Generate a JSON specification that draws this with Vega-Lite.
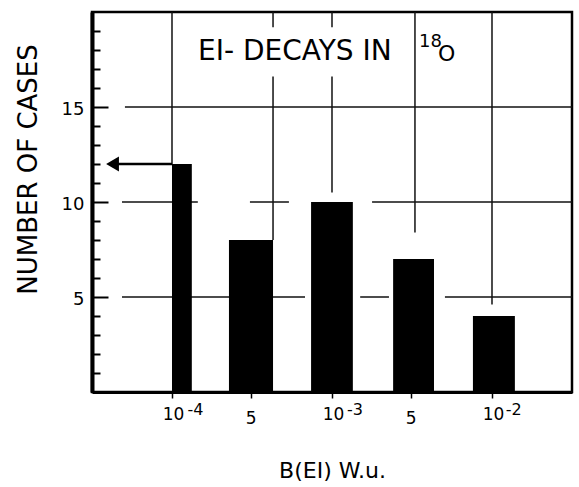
{
  "$schema": "https://vega.github.io/schema/vega-lite/v6.json",
  "width": 480,
  "height": 380,
  "autosize": {"type": "none"},
  "padding": {"left": 92, "top": 12, "right": 7, "bottom": 95},
  "background": "white",
  "config": {
    "font": "DejaVu Sans",
    "view": {"stroke": "black", "strokeWidth": 2.5}
  },
  "datasets": {
    "hgrid": [
      {"cases": 15, "from": 5.08e-5, "to": 0.03162},
      {"cases": 10, "from": 4.87e-5, "to": 1.45e-4},
      {"cases": 10, "from": 3.07e-4, "to": 5.38e-4},
      {"cases": 10, "from": 1.78e-3, "to": 0.03162},
      {"cases": 5, "from": 4.87e-5, "to": 6.78e-4},
      {"cases": 5, "from": 1.5e-3, "to": 2.27e-3},
      {"cases": 5, "from": 5.08e-3, "to": 0.03162}
    ],
    "vgrid": [
      {"b": 1e-4, "top": 20, "bottom": 12},
      {"b": 4.28e-4, "top": 20, "bottom": 19.2},
      {"b": 4.28e-4, "top": 16.6, "bottom": 8},
      {"b": 1e-3, "top": 20, "bottom": 19.2},
      {"b": 1e-3, "top": 16.6, "bottom": 10.5},
      {"b": 3.3e-3, "top": 20, "bottom": 8.4},
      {"b": 1e-2, "top": 20, "bottom": 4.6}
    ],
    "bars": [
      {"lo": 1.0e-4, "hi": 1.33e-4, "cases": 12},
      {"lo": 2.27e-4, "hi": 4.28e-4, "cases": 8},
      {"lo": 7.4e-4, "hi": 1.35e-3, "cases": 10},
      {"lo": 2.41e-3, "hi": 4.34e-3, "cases": 7},
      {"lo": 7.6e-3, "hi": 1.39e-2, "cases": 4}
    ],
    "arrow": [
      {"from": 4.25e-5, "to": 1.0e-4, "cases": 12}
    ],
    "exponents": [
      {"b": 1.25e-4, "cases": -1.2, "label": "-4"},
      {"b": 1.24e-3, "cases": -1.2, "label": "-3"},
      {"b": 1.22e-2, "cases": -1.2, "label": "-2"}
    ]
  },
  "encoding": {
    "x": {
      "type": "quantitative",
      "scale": {"type": "log", "domain": [3.1623e-5, 0.031623], "nice": false},
      "axis": {
        "title": "B(EI) W.u.",
        "titleFont": "DejaVu Sans",
        "titleFontSize": 22,
        "titleFontWeight": "normal",
        "titleColor": "black",
        "titleBaseline": "alphabetic",
        "titleY": 85,
        "values": [1e-4, 3.1e-4, 1e-3, 3.1e-3, 1e-2],
        "labelExpr": "datum.value < 6e-4 && datum.value > 2e-4 ? '5' : datum.value < 6e-3 && datum.value > 2e-3 ? '5' : '10'",
        "labelFont": "DejaVu Sans",
        "labelFontSize": 17,
        "labelColor": "black",
        "labelBaseline": "top",
        "labelAlign": "center",
        "labelOffset": {"condition": {"test": "datum.value < 2e-4 || (datum.value > 6e-4 && datum.value < 2e-3) || datum.value > 6e-3", "value": 1}, "value": 0},
        "labelPadding": {"condition": {"test": "datum.value < 2e-4 || (datum.value > 6e-4 && datum.value < 2e-3) || datum.value > 6e-3", "value": 8}, "value": 12},
        "labelFlush": false,
        "labelOverlap": false,
        "grid": false,
        "tickSize": 6,
        "tickWidth": 1.5,
        "tickColor": "black",
        "domainColor": "black",
        "domainWidth": 3
      }
    },
    "y": {
      "type": "quantitative",
      "scale": {"domain": [0, 20], "nice": false, "zero": true},
      "axis": {
        "title": "NUMBER OF CASES",
        "titleFont": "DejaVu Sans",
        "titleFontSize": 26,
        "titleFontWeight": "normal",
        "titleColor": "black",
        "titleBaseline": "alphabetic",
        "titleAngle": -90,
        "titleX": -56,
        "titleY": 157,
        "values": [1, 2, 3, 4, 5, 6, 7, 8, 9, 10, 11, 12, 13, 14, 15, 16, 17, 18, 19],
        "labelExpr": "datum.value % 5 === 0 ? datum.label : ''",
        "labelFont": "DejaVu Sans",
        "labelFontSize": 18,
        "labelColor": "black",
        "labelOffset": 2,
        "labelPadding": 24,
        "grid": false,
        "tickSize": {"condition": {"test": "datum.value % 5 === 0", "value": -16}, "value": -8},
        "tickWidth": 2,
        "tickColor": "black",
        "domainColor": "black",
        "domainWidth": 4
      }
    }
  },
  "layer": [
    {
      "data": {"name": "hgrid"},
      "mark": {"type": "rule", "color": "#111", "strokeWidth": 1.5},
      "encoding": {
        "x": {"field": "from", "type": "quantitative"},
        "x2": {"field": "to"},
        "y": {"field": "cases", "type": "quantitative"}
      }
    },
    {
      "data": {"name": "vgrid"},
      "mark": {"type": "rule", "color": "#111", "strokeWidth": 1.5},
      "encoding": {
        "x": {"field": "b", "type": "quantitative"},
        "y": {"field": "top", "type": "quantitative"},
        "y2": {"field": "bottom"}
      }
    },
    {
      "data": {"name": "bars"},
      "mark": {"type": "rect", "fill": "black", "stroke": null},
      "encoding": {
        "x": {"field": "lo", "type": "quantitative"},
        "x2": {"field": "hi"},
        "y": {"field": "cases", "type": "quantitative"},
        "y2": {"datum": 0}
      }
    },
    {
      "data": {"name": "arrow"},
      "mark": {"type": "rule", "color": "black", "strokeWidth": 2.5},
      "encoding": {
        "x": {"field": "from", "type": "quantitative"},
        "x2": {"field": "to"},
        "y": {"field": "cases", "type": "quantitative"}
      }
    },
    {
      "data": {"name": "arrow"},
      "mark": {"type": "point", "shape": "triangle-left", "filled": true, "color": "black", "size": 220, "opacity": 1},
      "encoding": {
        "x": {"field": "from", "type": "quantitative"},
        "y": {"field": "cases", "type": "quantitative"}
      }
    },
    {
      "data": {"name": "exponents"},
      "mark": {"type": "text", "align": "left", "baseline": "alphabetic", "fontSize": 16, "font": "DejaVu Sans", "color": "black"},
      "encoding": {
        "x": {"field": "b", "type": "quantitative"},
        "y": {"field": "cases", "type": "quantitative"},
        "text": {"field": "label"}
      }
    },
    {
      "data": {"values": [{"b": 1.454e-4, "cases": 17.47, "label": "EI- DECAYS IN"}]},
      "mark": {"type": "text", "align": "left", "baseline": "alphabetic", "fontSize": 28, "font": "DejaVu Sans", "color": "black"},
      "encoding": {
        "x": {"field": "b", "type": "quantitative"},
        "y": {"field": "cases", "type": "quantitative"},
        "text": {"field": "label"}
      }
    },
    {
      "data": {"values": [{"b": 3.5e-3, "cases": 18.16, "label": "18"}]},
      "mark": {"type": "text", "align": "left", "baseline": "alphabetic", "fontSize": 18, "font": "DejaVu Sans", "color": "black"},
      "encoding": {
        "x": {"field": "b", "type": "quantitative"},
        "y": {"field": "cases", "type": "quantitative"},
        "text": {"field": "label"}
      }
    },
    {
      "data": {"values": [{"b": 4.6e-3, "cases": 17.42, "label": "O"}]},
      "mark": {"type": "text", "align": "left", "baseline": "alphabetic", "fontSize": 22, "font": "DejaVu Sans", "color": "black"},
      "encoding": {
        "x": {"field": "b", "type": "quantitative"},
        "y": {"field": "cases", "type": "quantitative"},
        "text": {"field": "label"}
      }
    }
  ]
}
